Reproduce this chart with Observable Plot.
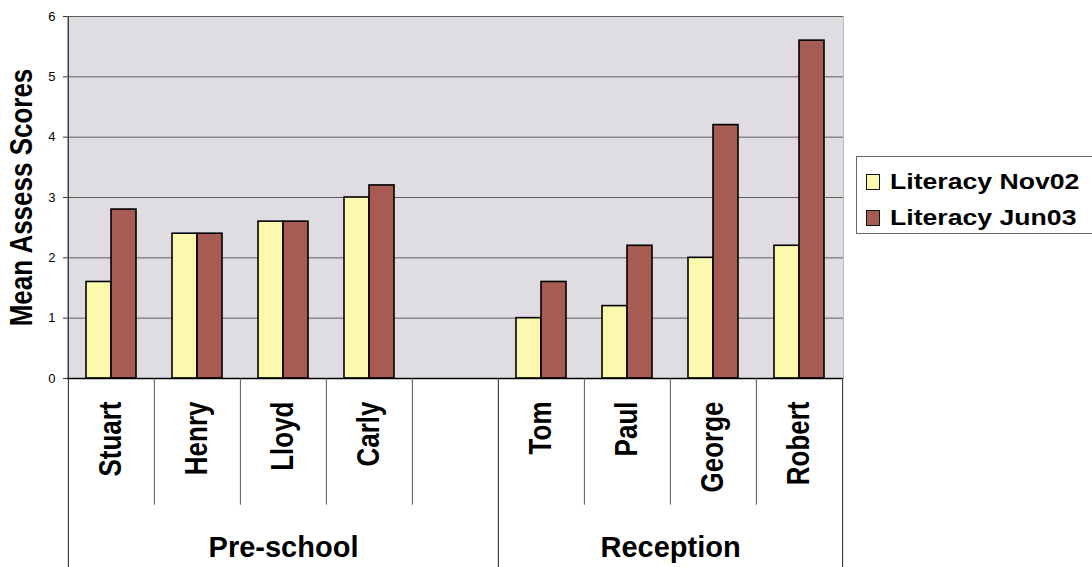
<!DOCTYPE html>
<html>
<head>
<meta charset="utf-8">
<script src="https://cdn.jsdelivr.net/npm/d3@7"></script>
<script src="https://cdn.jsdelivr.net/npm/@observablehq/plot@0.6"></script>
<style>
  html, body { margin: 0; padding: 0; background: #fff; }
  #chart { position: relative; width: 1092px; height: 567px; font-family: "Liberation Sans", Arial, sans-serif; }
  #chart svg { overflow: visible; }
  #chart svg g[aria-label="x-axis tick label"] text { font-weight: bold; }
  .legend {
    position: absolute; left: 856px; top: 156px; width: 236px; height: 78px;
    box-sizing: border-box; border: 1px solid #666; border-right: none; background: #fff;
  }
  .legend .row { position: absolute; left: 9px; height: 26px; display: flex; align-items: center; white-space: nowrap; }
  .legend .sw { width: 14px; height: 16px; border: 1.5px solid #111; box-sizing: border-box; margin-right: 10px; }
  .legend .lb { font-weight: bold; font-size: 22px; color: #000; transform: scaleX(1.21); transform-origin: left center; }
</style>
</head>
<body>
<div id="chart"></div>
<script>
// Pupils, grouped by class, with mean Assess literacy scores at two dates
const preschool = ["Stuart", "Henry", "Lloyd", "Carly"];
const reception = ["Tom", "Paul", "George", "Robert"];
const groupNames = ["Pre-school", "Reception"];
const seriesNames = ["Literacy Nov02", "Literacy Jun03"];
const nov02 = [1.6, 2.4, 2.6, 3.0, 1.0, 1.2, 2.0, 2.2];
const jun03 = [2.8, 2.4, 2.6, 3.2, 1.6, 2.2, 4.2, 5.6];
const yTicks = [0, 1, 2, 3, 4, 5, 6];

const colors = ["#fcf8ad", "#a65b53"];
const students = [...preschool, ...reception];
const rows = students.map((name, i) => ({name, nov: nov02[i], jun: jun03[i]}));

// slot order along x: the two classes separated by an empty slot
const gap = "";
const slots = [...preschool, gap, ...reception];

const W = 1092, H = 567, ML = 67, MR = 249, MT = 16, MB = 189;
const step = (W - ML - MR) / slots.length;

// vertical separators under the axis (in y data units below zero)
const shortDrop = -2.1, longDrop = -3.2;
const shortLefts = slots.filter((s, i) => i > 0 && s !== reception[0]);

// class labels, centred under their slot spans
const spans = [[0, preschool.length], [preschool.length + 1, slots.length - 1]];
const groupLabels = groupNames.map((g, k) => {
  const c = (spans[k][0] + spans[k][1]) / 2;
  const i = Math.floor(c);
  return {label: g, x: slots[i], off: (c - i) * step};
});

const chart = Plot.plot({
  width: W, height: H,
  marginLeft: ML, marginRight: MR, marginTop: MT, marginBottom: MB,
  style: {fontFamily: "'Liberation Sans', Arial, sans-serif", color: "#000", background: "transparent"},
  x: {domain: slots, padding: 0, axis: null},
  y: {domain: [0, 6], axis: null},
  marks: [
    Plot.frame({fill: "#dfdce2", stroke: "#b8b8b8"}),
    Plot.ruleY(yTicks.filter(d => d > 0), {stroke: "#5e5e5e", strokeWidth: 1}),
    Plot.barY(rows, {x: "name", y: "nov", fill: colors[0], stroke: "#000", strokeWidth: 1.6, insetLeft: 18, insetRight: 43}),
    Plot.barY(rows, {x: "name", y: "jun", fill: colors[1], stroke: "#000", strokeWidth: 1.6, insetLeft: 43, insetRight: 18}),
    Plot.ruleY([0], {stroke: "#000", strokeWidth: 1.3}),
    // left axis line, running on down as the outer class separator
    Plot.ruleX([slots[0]], {x: d => d, y1: 6, y2: longDrop, dx: -step / 2, stroke: "#333", strokeWidth: 1.1}),
    // separator between the classes and at the right end
    Plot.ruleX([reception[0]], {x: d => d, y1: 0, y2: longDrop, dx: -step / 2, stroke: "#333", strokeWidth: 1.1}),
    Plot.ruleX([slots[slots.length - 1]], {x: d => d, y1: 0, y2: longDrop, dx: step / 2, stroke: "#333", strokeWidth: 1.1}),
    // separators between the pupils
    Plot.ruleX(shortLefts, {x: d => d, y1: 0, y2: shortDrop, dx: -step / 2, stroke: "#555", strokeWidth: 1}),
    Plot.axisX({tickSize: 0, tickRotate: -90, tickPadding: 23, fontSize: 26, fontWeight: "bold"}),
    Plot.axisY({ticks: yTicks, tickFormat: d3.format("d"), tickSize: 4, tickPadding: 8, fontSize: 13, label: null, stroke: "#333"}),
    Plot.text(["Mean Assess Scores"], {frameAnchor: "left", textAnchor: "middle", rotate: -90, dx: -45, fontSize: 26, fontWeight: "bold"}),
    ...groupLabels.map(g => Plot.text([g], {x: "x", y: 0, text: "label", dx: g.off, dy: 169, fontSize: 29, fontWeight: "bold"}))
  ]
});

// widen the upright lettering of the rotated labels a little
chart.querySelectorAll('g[aria-label="x-axis tick label"] text, g[aria-label="text"] text').forEach(t => {
  const tr = t.getAttribute("transform") || "";
  if (tr.includes("rotate")) t.setAttribute("transform", tr + " scale(1,1.2)");
});

const root = document.getElementById("chart");
root.appendChild(chart);

// legend to the right of the plot
const legend = document.createElement("div");
legend.className = "legend";
seriesNames.forEach((s, i) => {
  const row = document.createElement("div");
  row.className = "row";
  row.style.top = (i === 0 ? 12 : 48) + "px";
  const sw = document.createElement("div");
  sw.className = "sw";
  sw.style.background = colors[i];
  const lb = document.createElement("span");
  lb.className = "lb";
  lb.textContent = s;
  row.append(sw, lb);
  legend.appendChild(row);
});
root.appendChild(legend);
</script>
</body>
</html>
